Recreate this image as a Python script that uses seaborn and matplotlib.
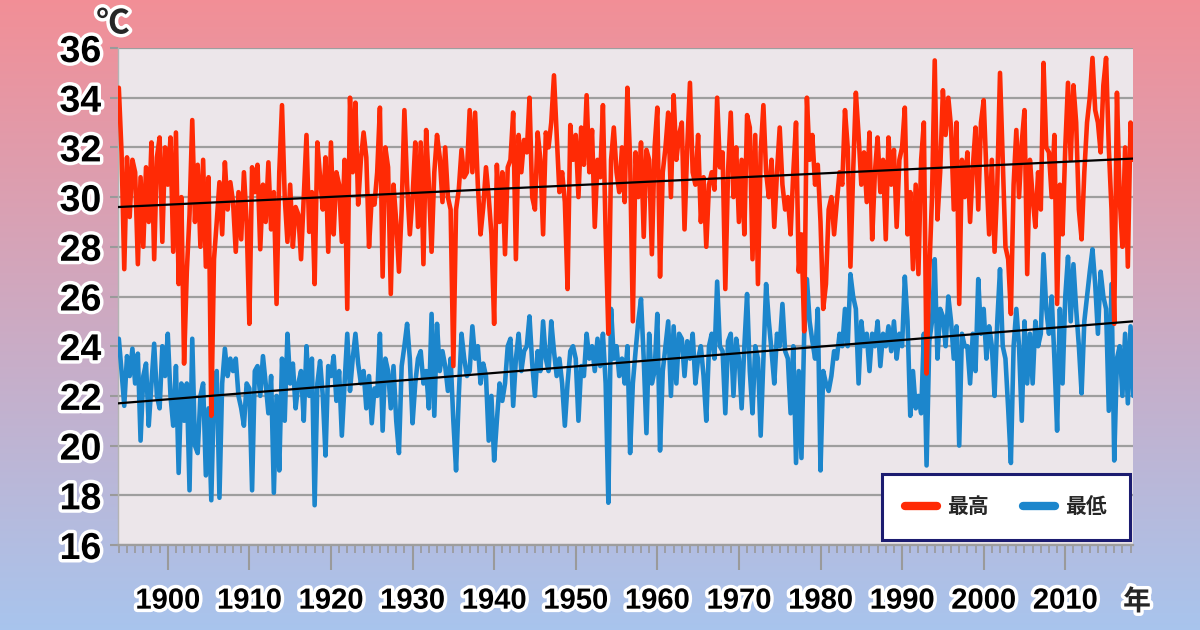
import numpy as np
import pandas as pd
import matplotlib
matplotlib.use("Agg")
import matplotlib.pyplot as plt
import seaborn as sns
from matplotlib import patheffects as pe
from matplotlib.lines import Line2D

# ---------------- data (3 readings per year, 1894-2018) ----------------
first_year = 1894
per_year = 3

hi_vals = [
    # 1894-1899
    34.4, 31.8, 27.1, 31.6, 29.2, 31.5, 31.0, 27.3, 30.8, 28.0, 31.2, 29.0, 32.2, 27.5, 31.6, 32.4, 28.2, 32.0,
    # 1900s
    30.5, 32.4, 27.8, 32.6, 26.5, 30.0, 23.3, 27.0, 29.3, 33.1, 29.0, 31.3, 28.0, 31.5, 27.2,
    30.8, 21.2, 27.5, 29.0, 30.6, 28.5, 31.4, 29.5, 30.6, 29.8, 27.8, 30.2, 28.3, 31.0, 29.0,
    # 1910s
    24.9, 31.2, 30.2, 31.3, 27.9, 30.5, 29.0, 31.4, 28.7, 30.2, 25.7, 31.0, 33.7, 30.0, 28.2,
    30.5, 28.0, 29.6, 29.3, 27.5, 30.0, 32.5, 28.6, 30.2, 26.5, 32.2, 30.8, 29.5, 31.6, 27.8,
    # 1920s
    32.2, 28.5, 31.0, 30.5, 28.2, 31.5, 25.5, 34.0, 31.0, 33.8, 29.7, 31.5, 32.6, 31.6, 28.0,
    30.0, 29.7, 31.0, 33.6, 26.8, 32.0, 31.2, 26.1, 30.5, 29.0, 27.0, 29.5, 33.5, 30.5, 28.5,
    # 1930s
    30.0, 32.2, 28.8, 32.2, 27.3, 32.7, 30.5, 27.8, 31.0, 32.5, 31.6, 29.8, 32.0, 30.0, 29.5,
    23.2, 29.5, 30.3, 31.9, 30.8, 31.0, 33.5, 31.0, 33.4, 30.5, 28.5, 29.6, 31.2, 30.0, 28.5,
    # 1940s
    24.9, 31.3, 29.0, 31.0, 27.7, 31.2, 31.5, 33.4, 27.5, 32.5, 31.0, 32.3, 31.8, 34.0, 30.0,
    29.5, 32.6, 31.5, 28.5, 32.6, 32.0, 33.0, 34.9, 32.5, 30.2, 31.0, 29.8, 26.3, 32.9, 31.5,
    # 1950s
    32.5, 30.0, 32.8, 31.3, 34.1, 31.0, 32.7, 28.8, 31.5, 30.8, 33.7, 28.5, 24.5, 31.5, 32.8,
    31.0, 30.2, 32.0, 29.8, 34.4, 31.5, 25.0, 31.8, 30.0, 32.2, 28.4, 31.9, 31.5, 27.7, 32.0,
    # 1960s
    33.6, 26.8, 31.0, 32.0, 33.4, 30.0, 34.1, 31.5, 32.5, 33.0, 28.7, 32.0, 34.6, 31.0, 30.5,
    32.5, 29.0, 30.8, 28.0, 30.5, 31.0, 30.3, 34.0, 31.2, 31.8, 26.3, 31.0, 33.4, 30.0, 32.0,
    # 1970s
    29.0, 31.5, 28.5, 33.3, 32.8, 27.5, 32.5, 26.5, 31.8, 33.7, 31.0, 30.0, 31.5, 28.8, 31.0,
    32.8, 30.5, 29.5, 30.0, 28.5, 31.0, 33.0, 27.0, 28.5, 24.6, 34.0, 31.5, 32.5, 30.5, 31.3,
    # 1980s
    29.0, 25.5, 26.5, 29.5, 30.0, 28.5, 29.8, 31.0, 30.5, 33.5, 32.0, 27.2, 31.0, 34.2, 32.5,
    30.5, 31.8, 29.8, 32.6, 28.3, 31.0, 32.4, 30.2, 31.5, 28.3, 32.4, 30.5, 31.9, 28.8, 31.5,
    # 1990s
    32.0, 33.6, 28.5, 30.2, 27.1, 30.5, 26.9, 31.5, 33.0, 22.9, 27.0, 30.0, 35.5, 29.1, 31.0,
    34.3, 32.5, 34.0, 32.8, 29.5, 33.0, 25.7, 31.5, 30.0, 31.8, 29.0, 31.2, 32.8, 29.5, 33.0,
    # 2000s
    33.9, 31.0, 28.5, 31.5, 27.8, 30.5, 35.0, 31.5, 28.0, 27.5, 25.3, 30.5, 32.7, 30.0, 32.2,
    33.5, 26.9, 31.5, 30.0, 28.8, 31.0, 29.5, 35.4, 32.0, 31.8, 30.0, 32.5, 25.7, 30.5, 28.5,
    # 2010s
    32.0, 34.6, 31.5, 34.5, 33.0, 29.5, 28.3, 31.0, 33.0, 34.0, 35.6, 33.5, 33.0, 31.8, 34.5,
    35.6, 32.0, 29.5, 24.9, 34.2, 30.0, 28.0, 32.0, 27.2, 33.0, 31.5, 32.0,
]

lo_vals = [
    # 1894-1899
    24.3, 23.0, 21.6, 23.6, 22.8, 23.9, 22.5, 23.7, 20.2, 22.8, 23.3, 20.8, 22.5, 24.1, 22.0, 21.5, 24.0, 22.8,
    # 1900s
    24.5, 22.0, 20.8, 23.2, 18.9, 22.5, 21.0, 22.5, 18.2, 24.3, 20.0, 19.7, 22.0, 22.5, 18.8,
    21.5, 17.8, 22.2, 23.0, 17.9, 22.5, 23.9, 22.8, 23.5, 23.0, 23.5, 22.0, 21.5, 20.8, 22.5,
    # 1910s
    22.3, 18.2, 23.0, 23.2, 22.0, 23.6, 22.5, 21.3, 22.8, 18.1, 22.0, 19.0, 23.5, 21.0, 24.5,
    22.5, 23.3, 21.5, 22.5, 23.0, 21.0, 24.0, 22.0, 23.5, 17.6, 22.5, 23.4, 22.0, 19.6, 23.2,
    # 1920s
    22.8, 23.6, 21.8, 23.0, 20.4, 22.5, 24.5, 22.2, 23.5, 24.5, 23.3, 22.5, 23.0, 21.5, 22.8,
    20.9, 22.3, 22.0, 24.5, 20.6, 23.5, 23.0, 21.5, 23.2, 21.0, 19.7, 23.2, 24.0, 24.9, 23.5,
    # 1930s
    20.9, 22.5, 23.5, 23.8, 22.5, 23.0, 21.5, 25.3, 21.2, 24.9, 23.0, 23.8, 23.2, 22.2, 23.5,
    21.0, 19.0, 22.0, 24.5, 23.5, 22.8, 23.0, 24.8, 23.5, 24.0, 22.5, 23.3, 22.8, 20.2, 22.0,
    # 1940s
    19.4, 21.0, 22.5, 21.8, 22.5, 24.0, 24.3, 21.6, 23.5, 24.5, 23.0, 23.8, 24.0, 25.2, 23.3,
    22.0, 23.8, 23.0, 25.0, 23.5, 23.0, 25.0, 23.8, 22.8, 23.5, 22.5, 20.8, 22.5, 23.8, 24.0,
    # 1950s
    23.5, 21.0, 23.2, 22.8, 24.5, 23.5, 24.0, 23.0, 24.3, 23.2, 24.5, 22.5, 17.7, 25.5, 23.5,
    24.0, 22.8, 23.5, 22.5, 24.0, 19.7, 22.5, 23.8, 25.0, 25.9, 23.5, 20.5, 24.5, 22.5, 23.0,
    # 1960s
    25.3, 19.8, 23.0, 24.0, 25.0, 22.0, 24.8, 22.5, 24.5, 24.3, 22.8, 24.2, 23.5, 24.5, 22.5,
    23.5, 24.0, 22.8, 21.0, 24.0, 24.5, 23.5, 26.6, 24.0, 23.8, 21.3, 24.2, 24.5, 22.0, 24.3,
    # 1970s
    23.5, 21.5, 24.0, 26.1, 23.0, 21.3, 24.0, 23.5, 20.4, 23.5, 26.5, 25.0, 23.8, 22.5, 24.5,
    24.0, 25.7, 23.8, 23.5, 21.3, 24.0, 19.3, 23.0, 19.5, 24.5, 26.7, 25.0, 24.2, 23.5, 25.5,
    # 1980s
    19.0, 23.0, 22.5, 22.2, 22.8, 23.8, 23.5, 24.5, 24.0, 25.5, 24.0, 26.9, 26.0, 25.5, 22.5,
    25.0, 24.0, 24.5, 23.0, 24.5, 24.0, 25.0, 23.2, 24.5, 24.0, 24.8, 23.8, 25.0, 23.5, 24.5,
    # 1990s
    24.0, 26.8, 25.0, 21.2, 23.0, 21.5, 22.0, 21.3, 24.5, 19.2, 24.2, 25.0, 27.5, 23.5, 25.5,
    25.2, 24.0, 26.0, 25.0, 23.5, 24.8, 20.0, 24.5, 24.0, 24.0, 22.5, 24.5, 23.0, 26.7, 24.5,
    # 2000s
    25.5, 23.5, 24.8, 24.0, 22.0, 25.0, 27.1, 24.0, 23.5, 21.5, 19.3, 24.0, 25.5, 24.0, 21.0,
    25.0, 22.5, 24.5, 22.5, 25.0, 24.0, 24.5, 27.7, 25.5, 24.5, 26.0, 23.5, 20.6, 25.5, 22.5,
    # 2010s
    26.0, 27.6, 25.0, 27.3, 25.5, 24.0, 22.1, 25.0, 26.0, 27.0, 27.9, 26.5, 24.5, 27.0, 26.0,
    25.5, 21.4, 26.5, 19.4, 23.5, 24.0, 22.0, 24.5, 21.7, 24.8, 22.0, 24.5,
]

# trend lines (start / end values)
trend_years = [1893.9, 2018.3]
trend_hi = [29.6, 31.55]
trend_lo = [21.7, 25.0]

series_names = ["最高", "最低"]
year_ticks = list(range(1900, 2011, 10))
temp_ticks = list(range(16, 37, 2))

# ---------------- style ----------------
RED = "#FF2A05"
BLUE = "#1C86CC"

sns.set_theme(style="white")
plt.rcParams["font.family"] = ["Liberation Sans", "Noto Sans CJK JP", "DejaVu Sans"]

outline = [pe.withStroke(linewidth=5, foreground="white")]

fig = plt.figure(figsize=(12, 6.3), dpi=100)

# pink -> blue background
bg = fig.add_axes([0, 0, 1, 1], zorder=-10)
top = np.array([0.95, 0.56, 0.59])
bottom = np.array([0.66, 0.77, 0.93])
t = np.linspace(0, 1, 256)[:, None, None]
grad = top * (1 - t) + bottom * t
bg.imshow(grad, aspect="auto", extent=[0, 1, 0, 1])
bg.axis("off")

ax = fig.add_axes([118 / 1200, 85 / 630, 1015 / 1200, 497 / 630])
ax.set_facecolor("#ECE6EA")

n = len(hi_vals)
x = first_year + np.arange(n) / per_year
df = pd.DataFrame({
    "year": np.concatenate([x, x]),
    "temp": hi_vals + lo_vals,
    "kind": [series_names[0]] * n + [series_names[1]] * len(lo_vals),
})

sns.lineplot(data=df, x="year", y="temp", hue="kind", hue_order=["最低", "最高"],
             palette={"最高": RED, "最低": BLUE}, estimator=None, lw=3.3,
             legend=False, ax=ax, zorder=3)

sns.lineplot(x=trend_years, y=trend_hi, color="black", lw=1.6, ax=ax, zorder=5)
sns.lineplot(x=trend_years, y=trend_lo, color="black", lw=1.6, ax=ax, zorder=5)

ax.set_xlim(1893.9, 2018.3)
ax.set_ylim(16, 36)
ax.set_yticks(temp_ticks)
ax.set_xticks(year_ticks)
ax.set_xticks(range(first_year, 2019), minor=True)
ax.set_xlabel("")
ax.set_ylabel("")

ax.grid(axis="y", color="#9e9e9e", lw=1.6, zorder=1)
ax.grid(axis="x", visible=False)
ax.set_axisbelow(True)

for s in ["top", "right"]:
    ax.spines[s].set_visible(False)
ax.spines["left"].set_color("#b4b4b4")
ax.spines["left"].set_linewidth(1)
ax.spines["bottom"].set_color("#9e9e9e")
ax.spines["bottom"].set_linewidth(1.6)

ax.tick_params(axis="x", which="major", direction="out", length=18, width=1.5,
               color="#9a9a9a", pad=12, labelsize=21, bottom=True)
ax.tick_params(axis="x", which="minor", direction="out", length=6, width=1.2,
               color="#9a9a9a", bottom=True)
ax.tick_params(axis="y", direction="out", length=6, width=1.5, color="#9a9a9a",
               pad=6, labelsize=27, left=True)

for lab in ax.get_xticklabels() + ax.get_yticklabels():
    lab.set_fontweight("bold")
    lab.set_color("black")
    lab.set_path_effects(outline)

fig.text(113 / 1200, 1 - 25 / 630, "℃", fontsize=24, fontweight="bold",
         ha="center", va="center", path_effects=outline)
fig.text(1137 / 1200, 1 - 603 / 630, "年", fontsize=20, fontweight="bold",
         ha="center", va="center", path_effects=outline)

handles = [Line2D([0], [0], color=RED, lw=6, solid_capstyle="round"),
           Line2D([0], [0], color=BLUE, lw=6, solid_capstyle="round")]
leg = ax.legend(handles, series_names, ncol=2, loc="lower right",
                bbox_to_anchor=(0.997, 0.01), borderaxespad=0, frameon=True,
                fancybox=False, framealpha=1, facecolor="white",
                edgecolor="#1c1c70", handlelength=1.55, handletextpad=0.5,
                columnspacing=1.6, borderpad=1.1,
                prop={"weight": "bold", "size": 15})
leg.get_frame().set_linewidth(2.2)
leg.set_zorder(10)

fig.savefig("out.png", dpi=100)
